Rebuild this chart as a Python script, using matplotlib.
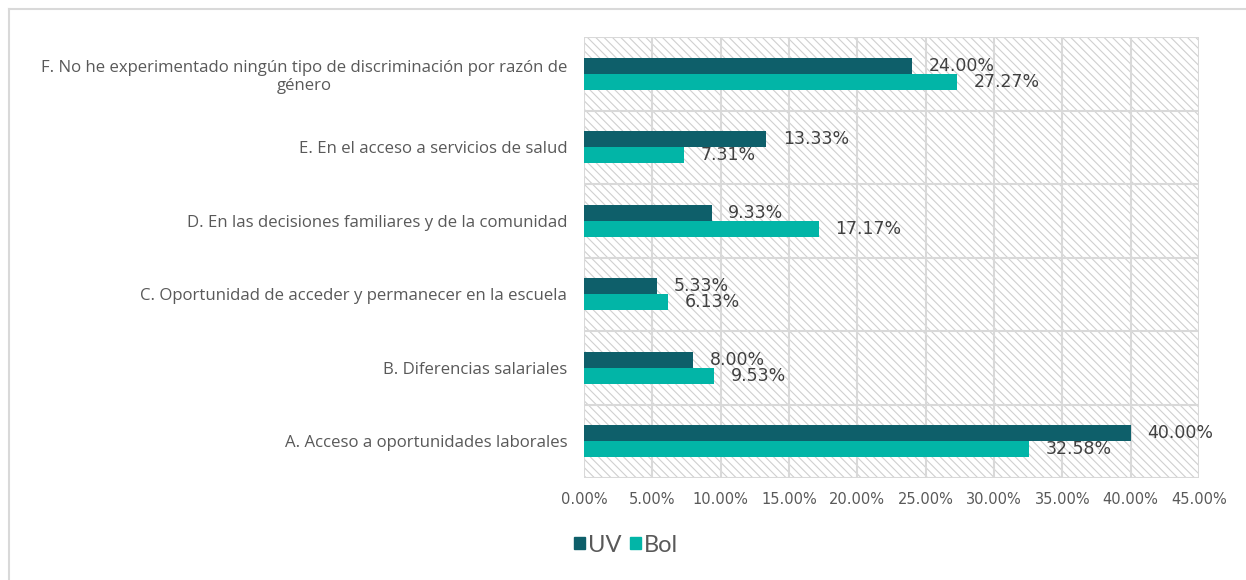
import numpy as np
import matplotlib.pyplot as plt
from matplotlib.patches import Rectangle, Patch
from matplotlib.lines import Line2D

categorias = [
    "A. Acceso a oportunidades laborales",
    "B. Diferencias salariales",
    "C. Oportunidad de acceder y permanecer en la escuela",
    "D. En las decisiones familiares y de la comunidad",
    "E. En el acceso a servicios de salud",
    "F. No he experimentado ningún tipo de discriminación por razón de\ngénero",
]
uv = [40.00, 8.00, 5.33, 9.33, 13.33, 24.00]
bol = [32.58, 9.53, 6.13, 17.17, 7.31, 27.27]
ticks = [0, 5, 10, 15, 20, 25, 30, 35, 40, 45]

c_uv = "#0E5F6A"
c_bol = "#02B5A7"
gris = "#595959"
linea = "#d9d9d9"

plt.rcParams['hatch.linewidth'] = 0.8
plt.rcParams['hatch.color'] = "#d0d0d0"

fig = plt.figure(figsize=(12.46, 5.8), dpi=100)
ax = fig.add_axes([584/1246, 1-478/580, 615/1246, 441/580])

# borde de la figura
fig.add_artist(Line2D([9/1246, 9/1246], [0, 1-9/580], transform=fig.transFigure, color=linea, lw=1.5))
fig.add_artist(Line2D([9/1246, 1], [1-9/580, 1-9/580], transform=fig.transFigure, color=linea, lw=1.5))

# fondo rayado
ax.add_patch(Rectangle((0, 0), 1, 1, transform=ax.transAxes, facecolor="white",
                       edgecolor="#d0d0d0", hatch="\\\\\\\\", lw=0, zorder=0))

y = np.arange(len(categorias))
h = 0.22
ax.barh(y + h/2, uv, height=h, color=c_uv, zorder=3)
ax.barh(y - h/2, bol, height=h, color=c_bol, zorder=3)

for yi, v in zip(y, uv):
    ax.annotate(f"{v:.2f}%", (v, yi + h/2), xytext=(12, 0), textcoords="offset points",
                va="center", ha="left", fontsize=12.5, color="#404040", zorder=4)
for yi, v in zip(y, bol):
    ax.annotate(f"{v:.2f}%", (v, yi - h/2), xytext=(12, 0), textcoords="offset points",
                va="center", ha="left", fontsize=12.5, color="#404040", zorder=4)

ax.set_xlim(0, 45)
ax.set_ylim(-0.5, len(categorias) - 0.5)

for t in ticks:
    ax.axvline(t, color=linea, lw=1.5, zorder=1)
for b in np.arange(-0.5, len(categorias), 1.0):
    ax.axhline(b, color=linea, lw=1.5, zorder=1)

ax.set_xticks(ticks)
ax.set_xticklabels([f"{t:.2f}%" for t in ticks], fontsize=10.5, color=gris)
ax.set_yticks(y)
ax.set_yticklabels(categorias, fontsize=12.1, color=gris, family="Open Sans", multialignment="center")
ax.tick_params(axis="y", length=0, pad=12)
ax.tick_params(axis="x", length=0, pad=10)
for s in ax.spines.values():
    s.set_visible(False)

handles = [Patch(color=c_uv, label="UV"), Patch(color=c_bol, label="Bol")]
leg = fig.legend(handles=handles, loc="center left", bbox_to_anchor=(553/1246, 1-545/580),
                 ncol=2, frameon=False, handlelength=0.45, handleheight=0.45, handletextpad=0.15,
                 columnspacing=0.35, prop={"family": "Lato", "size": 17})
for t in leg.get_texts():
    t.set_color(gris)

fig.savefig("out.png", dpi=100)
